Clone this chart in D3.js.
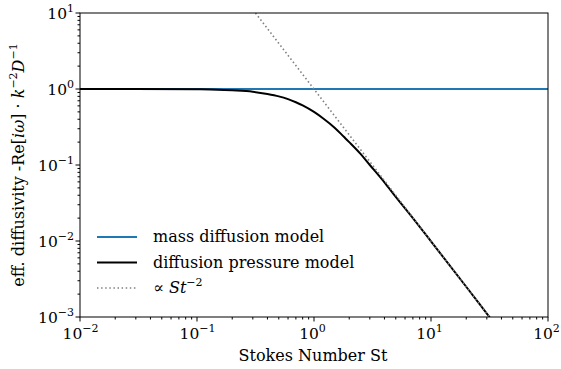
<!DOCTYPE html>
<html>
<head>
<meta charset="utf-8">
<script src="https://cdn.jsdelivr.net/npm/d3@7"></script>
<style>
  body { margin: 0; background: #fff; }
  text { font-family: "DejaVu Serif", "Liberation Serif", serif; fill: #000; }
</style>
</head>
<body>
<svg width="561" height="369"></svg>
<script>
// values
const stokes = [0.01, 0.03, 0.1, 0.15, 0.2, 0.3, 0.4, 0.5, 0.6, 0.7, 0.8, 1, 1.2, 1.5, 1.8, 2, 2.5, 3, 4, 5, 7, 10, 20, 31.6, 100];
const pressureModel = [1, 1, 0.99, 0.98, 0.96, 0.92, 0.86, 0.8, 0.735, 0.67, 0.61, 0.5, 0.41, 0.31, 0.235, 0.2, 0.14, 0.1, 0.059, 0.038, 0.02, 0.0099, 0.0025, 0.001, 0.0001];
const massModel = [[0.01, 1], [100, 1]];
const powerLaw = [[0.316, 10], [31.6, 0.001]];
const xTicks = [-2, -1, 0, 1, 2];
const yTicks = [-3, -2, -1, 0, 1];
const legendLabels = ["mass diffusion model", "diffusion pressure model", "St"];

const svg = d3.select("svg");
const mLeft = 80, mRight = 548, mTop = 13, mBottom = 317;

const x = d3.scaleLog().domain([1e-2, 1e2]).range([mLeft, mRight]);
const y = d3.scaleLog().domain([1e-3, 1e1]).range([mBottom, mTop]);

svg.append("clipPath").attr("id", "clip")
  .append("rect").attr("x", mLeft).attr("y", mTop)
  .attr("width", mRight - mLeft).attr("height", mBottom - mTop);

const plot = svg.append("g").attr("clip-path", "url(#clip)");
const line = d3.line().x(d => x(d[0])).y(d => y(d[1]));
const smooth = d3.line().x(d => x(d[0])).y(d => y(d[1])).curve(d3.curveMonotoneX);

plot.append("path").attr("d", line(massModel))
  .attr("fill", "none").attr("stroke", "#1f77b4").attr("stroke-width", 1.8);

plot.append("path").attr("d", smooth(stokes.map((s, i) => [s, pressureModel[i]])))
  .attr("fill", "none").attr("stroke", "#000").attr("stroke-width", 2);

plot.append("path").attr("d", line(powerLaw))
  .attr("fill", "none").attr("stroke", "#808080").attr("stroke-width", 1.6)
  .attr("stroke-dasharray", "1.5,2.6");

// minor ticks
const minor = [];
for (let e = -3; e < 2; e++) for (let m = 2; m < 10; m++) minor.push(m * Math.pow(10, e));

const xMinor = minor.filter(v => v > 1e-2 && v < 1e2);
const yMinor = minor.filter(v => v > 1e-3 && v < 1e1);

const axes = svg.append("g").attr("stroke", "#000").attr("stroke-width", 1);
xMinor.forEach(v => axes.append("line").attr("x1", x(v)).attr("x2", x(v)).attr("y1", mBottom).attr("y2", mBottom + 2.5));
yMinor.forEach(v => axes.append("line").attr("y1", y(v)).attr("y2", y(v)).attr("x1", mLeft).attr("x2", mLeft - 2.5));
xTicks.forEach(e => axes.append("line").attr("x1", x(Math.pow(10, e))).attr("x2", x(Math.pow(10, e))).attr("y1", mBottom).attr("y2", mBottom + 4.5));
yTicks.forEach(e => axes.append("line").attr("y1", y(Math.pow(10, e))).attr("y2", y(Math.pow(10, e))).attr("x1", mLeft).attr("x2", mLeft - 4.5));

axes.append("rect").attr("x", mLeft).attr("y", mTop)
  .attr("width", mRight - mLeft).attr("height", mBottom - mTop).attr("fill", "none");

function power(sel, e) {
  sel.append("tspan").text("10");
  sel.append("tspan").attr("dy", -7).attr("font-size", 11).text(e < 0 ? "\u2212" + (-e) : e);
}

xTicks.forEach(e => {
  const t = svg.append("text").attr("x", x(Math.pow(10, e)) + (e < 0 ? 0.5 : -1.5)).attr("y", mBottom + 22)
    .attr("font-size", 15.5).attr("text-anchor", "middle");
  power(t, e);
});
yTicks.forEach(e => {
  const t = svg.append("text").attr("x", mLeft - 6).attr("y", y(Math.pow(10, e)) + 6)
    .attr("font-size", 15.5).attr("text-anchor", "end");
  power(t, e);
});

svg.append("text").attr("x", (mLeft + mRight) / 2 - 1).attr("y", 361)
  .attr("font-size", 16).attr("text-anchor", "middle").text("Stokes Number St");

const yl = svg.append("text").attr("transform", "translate(24," + ((mTop + mBottom) / 2) + ") rotate(-90)")
  .attr("font-size", 16).attr("text-anchor", "middle");
yl.append("tspan").text("eff. diffusivity -Re[");
yl.append("tspan").attr("font-style", "italic").text("i\u03c9");
yl.append("tspan").text("] \u00b7 ");
yl.append("tspan").attr("font-style", "italic").text("k");
yl.append("tspan").attr("dy", -7).attr("font-size", 11).text("\u22122");
yl.append("tspan").attr("dy", 7).attr("font-style", "italic").text("D");
yl.append("tspan").attr("dy", -7).attr("font-size", 11).text("\u22121");

// legend
const legend = svg.append("g");
const styles = [
  { stroke: "#1f77b4", width: 1.8, dash: null },
  { stroke: "#000", width: 2, dash: null },
  { stroke: "#808080", width: 1.6, dash: "1.5,2.6" }
];
legendLabels.forEach((lab, i) => {
  const ly = 237 + i * 25.5;
  legend.append("line").attr("x1", 97).attr("x2", 137).attr("y1", ly).attr("y2", ly)
    .attr("stroke", styles[i].stroke).attr("stroke-width", styles[i].width)
    .attr("stroke-dasharray", styles[i].dash);
  const t = legend.append("text").attr("x", 153).attr("y", ly + 5).attr("font-size", 16);
  if (i < 2) {
    t.text(lab);
  } else {
    t.append("tspan").text("\u221d ");
    t.append("tspan").attr("font-style", "italic").text(lab);
    t.append("tspan").attr("dy", -7).attr("font-size", 11).text("\u22122");
  }
});
</script>
</body>
</html>
